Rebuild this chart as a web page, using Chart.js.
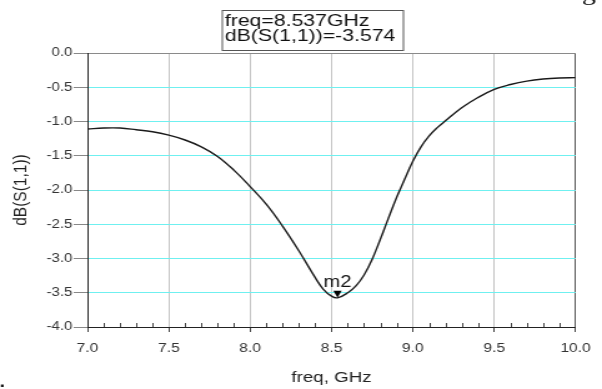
<!DOCTYPE html>
<html>
<head>
<meta charset="utf-8">
<script src="https://cdn.jsdelivr.net/npm/chart.js@4.4.1/dist/chart.umd.min.js"></script>
<style>
html, body { margin: 0; padding: 0; background: #fff; overflow: hidden; }
</style>
</head>
<body>
<!-- the reference is a screenshot stretched sideways, so the canvas is drawn narrow and stretched by css -->
<canvas id="myChart" width="482" height="389" style="width:602px;height:389px;display:block"></canvas>
<script>
// S11 sweep
const freqGHz = [7.0, 7.1, 7.2, 7.3, 7.4, 7.5, 7.6, 7.7, 7.8, 7.9, 8.0, 8.1, 8.2, 8.3, 8.4, 8.45, 8.5, 8.537,
  8.6, 8.65, 8.7, 8.75, 8.8, 8.85, 8.9, 8.95, 9.0, 9.05, 9.1, 9.15, 9.2, 9.3, 9.4, 9.5, 9.6, 9.7, 9.8, 9.9, 10.0];
const dbS11 = [-1.11, -1.095, -1.095, -1.12, -1.15, -1.20, -1.27, -1.37, -1.51, -1.71, -1.95, -2.21, -2.53, -2.89, -3.28, -3.45, -3.55, -3.574,
  -3.50, -3.40, -3.24, -3.01, -2.72, -2.41, -2.11, -1.84, -1.58, -1.37, -1.21, -1.09, -0.99, -0.80, -0.65, -0.53, -0.46, -0.41, -0.38, -0.365, -0.36];

// marker m2
const markerName = 'm2';
const markerFreq = 8.537;
const markerDb = -3.574;

// axes
const xMin = 7.0, xMax = 10.0, xStep = 0.1;
const yMin = -4.0, yMax = 0.0, yStep = 0.5;
const xTitle = 'freq, GHz';
const yTitle = 'dB(S(1,1))';

const FONT = '"Liberation Sans", Arial, Helvetica, sans-serif';

function isMajor(v) {
  return Math.abs(v * 2 - Math.round(v * 2)) < 1e-6;
}

let points = freqGHz.map((f, i) => ({x: f, y: dbS11[i]}));

// small inward ticks every 0.1 GHz on the bottom axis
const minorTicks = {
  id: 'minorTicks',
  afterDraw(chart) {
    const ctx = chart.ctx;
    const x = chart.scales.x;
    const bottom = chart.chartArea.bottom;
    ctx.save();
    ctx.strokeStyle = '#444';
    ctx.lineWidth = 1;
    x.ticks.forEach(t => {
      if (isMajor(t.value)) return;
      const px = x.getPixelForValue(t.value);
      ctx.beginPath();
      ctx.moveTo(Math.round(px) + 0.5, bottom - 4);
      ctx.lineTo(Math.round(px) + 0.5, bottom);
      ctx.stroke();
    });
    ctx.restore();
  }
};

// marker triangle, its name and the readout box
const markerPlugin = {
  id: 'marker',
  afterDraw(chart) {
    const ctx = chart.ctx;
    const {x, y} = chart.scales;
    const px = x.getPixelForValue(markerFreq);
    const py = y.getPixelForValue(markerDb);
    ctx.save();
    ctx.fillStyle = '#000';
    ctx.beginPath();
    ctx.moveTo(px - 3.3, py - 7);
    ctx.lineTo(px + 3.3, py - 7);
    ctx.lineTo(px, py);
    ctx.closePath();
    ctx.fill();

    ctx.fillStyle = '#111';
    ctx.font = '16px ' + FONT;
    ctx.textAlign = 'center';
    ctx.textBaseline = 'alphabetic';
    ctx.fillText(markerName, px, py - 10.5);

    // readout box
    ctx.fillStyle = '#fff';
    ctx.fillRect(178, 10.5, 145, 40);
    ctx.strokeStyle = '#555';
    ctx.lineWidth = 1;
    ctx.strokeRect(178, 10.5, 145, 40);
    ctx.fillStyle = '#111';
    ctx.font = '17px ' + FONT;
    ctx.textAlign = 'left';
    ctx.fillText('freq=' + markerFreq + 'GHz', 180, 25.5);
    ctx.fillText('dB(S(1,1))=' + markerDb, 180, 41);

    // bits of the surrounding page that show in the crop
    ctx.font = '22px "Liberation Serif", serif';
    ctx.fillStyle = '#000';
    ctx.fillText('g', 466, 0);
    ctx.fillRect(0.8, 384.5, 2, 2.5);
    ctx.restore();
  }
};

const myChart = document.getElementById('myChart');

let lineChart = new Chart(myChart, {
  type: 'line',
  data: {
    datasets: [{
      data: points,
      borderColor: '#1a1a1a',
      borderWidth: 1.4,
      pointRadius: 0,
      fill: false,
      tension: 0.4
    }]
  },
  options: {
    responsive: false,
    animation: false,
    devicePixelRatio: 1,
    events: [],
    layout: {
      padding: {top: 53, right: 11.5, bottom: 0, left: 0}
    },
    plugins: {
      legend: {display: false},
      tooltip: {enabled: false}
    },
    scales: {
      x: {
        type: 'linear',
        min: xMin,
        max: xMax,
        afterFit(scale) { scale.height = 62; },
        ticks: {
          stepSize: xStep,
          autoSkip: false,
          maxRotation: 0,
          padding: 9,
          color: '#333',
          font: {family: FONT, size: 12.5},
          callback: v => isMajor(v) ? v.toFixed(1) : ''
        },
        grid: {
          lineWidth: 1,
          tickLength: 5,
          color: c => {
            const v = c.tick ? c.tick.value : 0;
            if (!isMajor(v)) return 'rgba(0,0,0,0)';
            if (Math.abs(v - xMin) < 1e-6) return '#222';
            if (Math.abs(v - xMax) < 1e-6) return '#555';
            return '#c4c4c4';
          },
          tickColor: c => (c.tick && isMajor(c.tick.value)) ? '#444' : 'rgba(0,0,0,0)'
        },
        border: {color: '#222', width: 1},
        title: {
          display: true,
          text: xTitle,
          color: '#222',
          font: {family: FONT, size: 15},
          padding: {top: 0, bottom: 2}
        }
      },
      y: {
        type: 'linear',
        min: yMin,
        max: yMax,
        afterFit(scale) { scale.width = 70; },
        ticks: {
          stepSize: yStep,
          padding: 1,
          color: '#333',
          font: {family: FONT, size: 12},
          callback: v => v.toFixed(1)
        },
        grid: {
          lineWidth: 1,
          tickLength: 11,
          color: c => {
            const v = c.tick ? c.tick.value : 0;
            if (Math.abs(v - yMax) < 1e-6) return '#8a8a8a';
            if (Math.abs(v - yMin) < 1e-6) return '#222';
            return '#6ff0f0';
          },
          tickColor: '#888'
        },
        border: {color: '#222', width: 1},
        title: {
          display: true,
          text: yTitle,
          color: '#222',
          font: {family: FONT, size: 15.5},
          padding: {top: 7, bottom: 0}
        }
      }
    }
  },
  plugins: [minorTicks, markerPlugin]
});
</script>
</body>
</html>
